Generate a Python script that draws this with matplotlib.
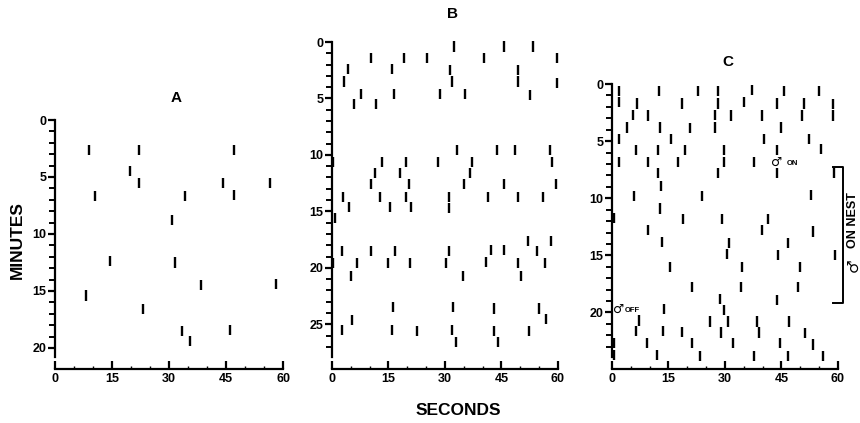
import matplotlib
matplotlib.use('Agg')
import matplotlib.pyplot as plt
from matplotlib.ticker import MultipleLocator

plt.rcParams['font.family'] = ['Liberation Sans', 'DejaVu Sans']
plt.rcParams['font.weight'] = 'bold'

# seconds / minutes of each call
a_sec = [9.0, 22.2, 47.0, 19.8, 22.1, 44.2, 56.5, 10.5, 34.1, 47.0,
         30.7, 14.5, 31.6, 38.5, 58.2, 8.2, 23.1, 33.4, 35.4, 46.1]
a_min = [2.6, 2.6, 2.6, 4.5, 5.5, 5.5, 5.5, 6.7, 6.7, 6.6,
         8.8, 12.4, 12.5, 14.5, 14.4, 15.4, 16.6, 18.5, 19.4, 18.4]

b_sec = [32.4, 45.6, 53.4, 10.3, 19.0, 25.2, 40.3, 59.8, 4.2, 16.0,
         31.4, 49.3, 49.3, 3.1, 31.9, 59.8, 7.6, 16.5, 28.8, 35.4,
         52.7, 5.8, 11.8,
         33.3, 43.8, 48.7, 57.8, 0.4, 13.3, 19.7, 28.2, 37.2, 58.4,
         11.5, 18.0, 36.6, 10.3, 20.4, 35.0, 45.6, 59.6, 2.9, 12.8,
         19.7, 31.1, 41.4, 49.4, 56.0, 4.5, 15.3, 20.9, 31.1, 0.7,
         52.0, 58.2, 2.7, 10.3, 16.8, 31.1, 42.3, 45.8, 54.4, 0.3,
         6.6, 14.9, 20.8, 30.4, 40.8, 49.4, 56.6, 5.1, 34.8, 50.1,
         16.2, 32.1, 43.0, 54.9, 5.4, 56.9, 2.7, 16.0, 22.7, 31.9,
         43.0, 52.3, 32.8, 44.1]
b_min = [0.4, 0.4, 0.4, 1.4, 1.4, 1.4, 1.4, 1.4, 2.4, 2.4,
         2.5, 2.5, 3.5, 3.5, 3.5, 3.6, 4.6, 4.6, 4.6, 4.6,
         4.7, 5.5, 5.5,
         9.6, 9.6, 9.6, 9.6, 10.6, 10.6, 10.6, 10.6, 10.6, 10.6,
         11.6, 11.6, 11.6, 12.6, 12.6, 12.6, 12.6, 12.6, 13.7, 13.7,
         13.7, 13.7, 13.7, 13.7, 13.7, 14.6, 14.6, 14.6, 14.7, 15.6,
         17.6, 17.6, 18.5, 18.5, 18.5, 18.5, 18.4, 18.4, 18.5, 19.6,
         19.6, 19.6, 19.6, 19.6, 19.5, 19.6, 19.6, 20.7, 20.7, 20.7,
         23.5, 23.5, 23.6, 23.6, 24.6, 24.5, 25.5, 25.5, 25.6, 25.5,
         25.6, 25.6, 26.6, 26.6]

c_sec = [1.9, 1.9, 12.6, 22.9, 28.1, 28.1, 37.1, 45.8, 55.0,
         6.7, 18.7, 35.1, 43.7, 51.1, 58.8, 58.8,
         5.5, 9.6, 27.3, 27.3, 31.6, 39.9, 50.4,
         4.1, 12.7, 20.7, 44.8,
         1.9, 15.6, 40.4, 52.4,
         6.5, 12.3, 19.4, 29.8, 43.7, 55.5,
         1.9, 9.5, 17.6, 29.8, 37.7,
         12.3, 28.2, 43.9, 59.0, 13.0, 5.8, 23.8, 52.8, 12.7,
         0.6, 18.8, 29.1, 41.5, 9.6, 39.7, 53.5, 13.2, 31.1, 46.6,
         30.6, 44.0, 59.2,
         15.4, 34.6, 49.9, 21.2, 34.2, 49.5, 28.7, 43.9, 13.9, 29.8,
         7.3, 26.0, 30.7, 38.6, 47.1, 6.3, 13.6, 18.5, 28.9, 38.9, 51.2,
         0.6, 0.6, 9.2, 21.3, 32.2, 44.6, 53.5,
         11.9, 23.5, 37.7, 46.8, 56.1]
c_min = [0.6, 1.6, 0.6, 0.6, 0.6, 1.7, 0.5, 0.6, 0.6,
         1.7, 1.7, 1.6, 1.7, 1.7, 1.75, 2.75,
         2.7, 2.75, 2.7, 3.8, 2.75, 2.75, 2.75,
         3.8, 3.8, 3.85, 3.8,
         4.8, 4.8, 4.8, 4.8,
         5.8, 5.8, 5.8, 5.8, 5.8, 5.7,
         6.8, 6.8, 6.8, 6.8, 6.8,
         7.8, 7.8, 7.8, 7.8, 8.9, 9.8, 9.8, 9.7, 10.9,
         11.7, 11.8, 11.8, 11.8, 12.8, 12.8, 12.9, 13.8, 13.9, 13.95,
         14.9, 15.0, 15.0,
         16.0, 16.0, 16.0, 17.75, 17.75, 17.8, 18.8, 18.9, 19.7, 19.8,
         20.7, 20.8, 20.8, 20.8, 20.8, 21.6, 21.6, 21.7, 21.75, 21.75, 21.8,
         22.7, 23.7, 22.7, 22.7, 22.7, 22.7, 22.8,
         23.7, 23.8, 23.8, 23.8, 23.8]

x_ticks = [0, 15, 30, 45, 60]

fig = plt.figure(figsize=(8.6, 4.23), dpi=100)
axA = fig.add_axes([0.0640, 0.156, 0.2651, 0.5603])
axB = fig.add_axes([0.3860, 0.156, 0.2628, 0.7447])
axC = fig.add_axes([0.7116, 0.156, 0.2628, 0.6454])

panels = [(axA, a_sec, a_min, 20.8, [0, 5, 10, 15, 20]),
          (axB, b_sec, b_min, 27.9, [0, 5, 10, 15, 20, 25]),
          (axC, c_sec, c_min, 23.9, [0, 5, 10, 15, 20])]

for ax, xs, ys, ymax, yt in panels:
    ax.vlines(xs, [y - 0.45 for y in ys], [y + 0.45 for y in ys],
              color='black', linewidth=1.7, clip_on=False)
    ax.set_xlim(0, 60)
    ax.set_ylim(ymax, 0)
    ax.spines['top'].set_visible(False)
    ax.spines['right'].set_visible(False)
    ax.spines['left'].set_linewidth(1.6)
    ax.spines['bottom'].set_linewidth(1.6)
    ax.spines['bottom'].set_position(('outward', 8.5))
    ax.set_xticks(x_ticks)
    ax.xaxis.set_minor_locator(MultipleLocator(5))
    ax.set_yticks(yt)
    ax.yaxis.set_minor_locator(MultipleLocator(1))
    ax.tick_params(axis='x', which='major', direction='in', length=6,
                   width=1.6, pad=3, labelsize=9)
    ax.tick_params(axis='x', which='minor', direction='in', length=2, width=1)
    ax.tick_params(axis='y', which='major', direction='out', length=5,
                   width=1.6, pad=1, labelsize=9)
    ax.tick_params(axis='y', which='minor', direction='out', length=4, width=1.4)
    for lab in ax.get_xticklabels() + ax.get_yticklabels():
        lab.set_fontweight('bold')

fig.text(176 / 860, 1 - 98 / 423, 'A', ha='center', va='center', fontsize=11, fontweight='bold')
fig.text(453 / 860, 1 - 14 / 423, 'B', ha='center', va='center', fontsize=11, fontweight='bold')
fig.text(728 / 860, 1 - 62 / 423, 'C', ha='center', va='center', fontsize=11, fontweight='bold')
fig.text(17 / 860, 1 - 240 / 423, 'MINUTES', rotation=90, ha='center', va='center',
         fontsize=12.5, fontweight='bold')
fig.text(458 / 860, 1 - 410 / 423, 'SECONDS', ha='center', va='center',
         fontsize=12.5, fontweight='bold')

# male on / off notes and the on-nest bracket in panel C
axC.text(43.8, 6.9, '\u2642', ha='center', va='center', fontsize=9,
         fontweight='bold', family='DejaVu Sans')
axC.text(46.4, 6.95, 'ON', ha='left', va='center', fontsize=5.5, fontweight='bold')
axC.text(0.2, 19.7, '\u2642', ha='left', va='center', fontsize=9,
         fontweight='bold', family='DejaVu Sans')
axC.text(3.4, 19.85, 'OFF', ha='left', va='center', fontsize=5.5, fontweight='bold')
axC.plot([58.7, 61.3, 61.3, 58.7], [7.3, 7.3, 19.2, 19.2], color='black',
         linewidth=1.4, clip_on=False)
axC.text(64.0, 15.9, '\u2642', rotation=90, ha='center', va='center',
         fontsize=11, fontweight='bold', family='DejaVu Sans')
axC.text(64.0, 11.9, 'ON NEST', rotation=90, ha='center', va='center',
         fontsize=9, fontweight='bold')

fig.savefig('out.png', dpi=100)
